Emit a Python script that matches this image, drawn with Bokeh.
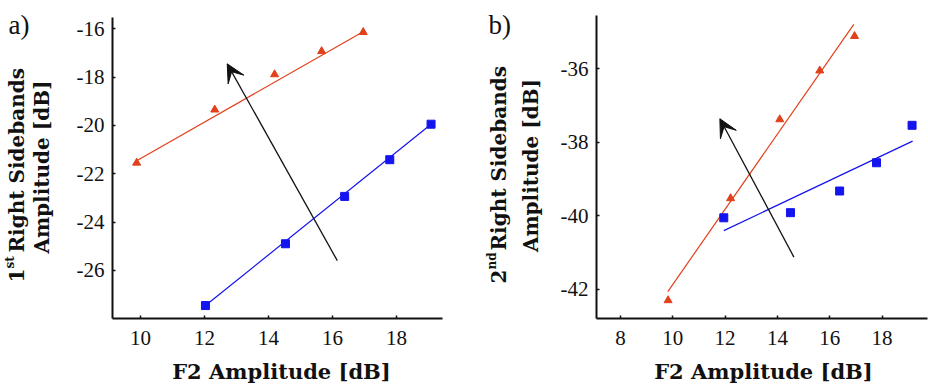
import math
from bokeh.plotting import figure
from bokeh.models import (Arrow, VeeHead, FixedTicker, Range1d, LinearAxis,
                          CustomJSTickFormatter)
from bokeh.core.properties import value
from bokeh.embed import file_html
from bokeh.resources import INLINE

# ---- panel a: 1st right sidebands ----
a_tri_x = [9.88, 12.32, 14.19, 15.66, 16.96]
a_tri_y = [-21.55, -19.35, -17.89, -16.93, -16.14]
a_sq_x = [12.03, 14.53, 16.38, 17.79, 19.08]
a_sq_y = [-27.46, -24.90, -22.94, -21.42, -19.95]
a_tri_fit_x = [9.88, 16.93]
a_tri_fit_y = [-21.46, -16.14]
a_sq_fit_x = [12.03, 19.08]
a_sq_fit_y = [-27.46, -19.95]
a_arrow = (16.15, -25.6, 12.71, -17.45)
a_xticks = [10, 12, 14, 16, 18]
a_yticks = [-26, -24, -22, -20, -18, -16]

# ---- panel b: 2nd right sidebands ----
b_tri_x = [9.82, 12.21, 14.09, 15.62, 16.95]
b_tri_y = [-42.31, -39.53, -37.38, -36.05, -35.11]
b_sq_x = [11.95, 14.50, 16.38, 17.79, 19.15]
b_sq_y = [-40.06, -39.92, -39.33, -38.56, -37.54]
b_tri_fit_x = [9.81, 16.92]
b_tri_fit_y = [-42.07, -34.79]
b_sq_fit_x = [11.95, 19.17]
b_sq_fit_y = [-40.41, -37.97]
b_arrow = (14.63, -41.13, 11.80, -37.36)
b_xticks = [8, 10, 12, 14, 16, 18]
b_yticks = [-42, -40, -38, -36]

RED = "#e2401c"
BLUE = "#1414ee"
INK = "#111111"
TICK_FONT = "Liberation Serif"
TITLE_FONT = "DejaVu Serif"
W, H = 928, 385

# One canvas in page pixels; each panel gets its own data ranges on top of it.
p = figure(width=W, height=H, x_range=Range1d(0, W), y_range=Range1d(H, 0),
           x_axis_type=None, y_axis_type=None, min_border=0,
           output_backend="svg", toolbar_location=None)
p.outline_line_color = None
p.background_fill_color = "white"
p.border_fill_color = "white"


def panel_range(ref_val, ref_px, px_per_unit, total, flip=False):
    """Range that spans the whole canvas given one tick's pixel position."""
    if not flip:
        return Range1d(ref_val - ref_px / px_per_unit,
                       ref_val + (total - ref_px) / px_per_unit)
    return Range1d(ref_val - (total - ref_px) / px_per_unit,
                   ref_val + ref_px / px_per_unit)


def add_panel(tag, xr, yr, frame, xticks, yticks,
              tx, ty, tfx, tfy, sx, sy, sfx, sfy, arrow):
    left, right, top, bottom = frame
    xn, yn = tag + "x", tag + "y"
    p.extra_x_ranges[xn] = xr
    p.extra_y_ranges[yn] = yr

    def xv(px):
        return xr.start + px * (xr.end - xr.start) / W

    def yv(py):
        return yr.end - py * (yr.end - yr.start) / H

    fmt = CustomJSTickFormatter(code="return String(tick)")
    xax = LinearAxis(x_range_name=xn, y_range_name=yn, fixed_location=yv(bottom),
                     bounds=(xv(left), xv(right)), ticker=FixedTicker(ticks=xticks),
                     formatter=fmt)
    yax = LinearAxis(x_range_name=xn, y_range_name=yn, fixed_location=xv(left),
                     bounds=(yv(bottom), yv(top)), ticker=FixedTicker(ticks=yticks),
                     formatter=fmt)
    for ax in (xax, yax):
        ax.axis_line_width = 2
        ax.axis_line_color = INK
        ax.major_tick_in = 3
        ax.major_tick_out = 0
        ax.major_tick_line_color = INK
        ax.major_tick_line_width = 1.5
        ax.minor_tick_line_color = None
        ax.major_label_text_font = TICK_FONT
        ax.major_label_text_font_size = "21px"
        ax.major_label_text_color = INK
    yax.major_label_standoff = 8
    xax.major_label_standoff = 12
    p.add_layout(xax, "below")
    p.add_layout(yax, "left")

    kw = dict(x_range_name=xn, y_range_name=yn)
    p.line(tfx, tfy, line_color=RED, line_width=1.2, **kw)
    p.line(sfx, sfy, line_color=BLUE, line_width=1.2, **kw)
    p.scatter(tx, ty, marker="triangle", size=8, fill_color=RED, line_color=RED, **kw)
    p.scatter(sx, sy, marker="square", size=8, fill_color=BLUE, line_color=BLUE, **kw)
    x0, y0, x1, y1 = arrow
    p.add_layout(Arrow(x_start=x0, y_start=y0, x_end=x1, y_end=y1,
                       line_color=INK, line_width=1.3,
                       end=VeeHead(size=18, fill_color=INK, line_color=INK), **kw))


def text_at(px, py, text, size, bold=True, angle=0.0, align="left",
            baseline="alphabetic", font=TITLE_FONT):
    p.text(x=[px], y=[py], text=[text], angle=angle,
           text_font=value(font), text_font_size=value(f"{size}px"),
           text_font_style="bold" if bold else "normal",
           text_align=align, text_baseline=baseline, text_color=INK)


# panel a: plot box spans x 112..442, y 17..318 on the page
add_panel("a",
          panel_range(10, 140, 32.0, W),
          panel_range(-16, 28.3, 24.15, H, flip=True),
          (112, 442, 17, 318), a_xticks, a_yticks,
          a_tri_x, a_tri_y, a_tri_fit_x, a_tri_fit_y,
          a_sq_x, a_sq_y, a_sq_fit_x, a_sq_fit_y, a_arrow)

# panel b: plot box spans x 596..927, y 15..318 on the page
add_panel("b",
          panel_range(8, 620, 26.15, W),
          panel_range(-36, 68.3, 36.7, H, flip=True),
          (596, 927, 15, 318), b_xticks, b_yticks,
          b_tri_x, b_tri_y, b_tri_fit_x, b_tri_fit_y,
          b_sq_x, b_sq_y, b_sq_fit_x, b_sq_fit_y, b_arrow)

UP = math.pi / 2

# panel tags
text_at(8, 24, "a)", 27, bold=False, font="Liberation Serif")
text_at(488, 24, "b)", 27, bold=False, font="Liberation Serif")

# x titles
text_at(281, 371, "F2 Amplitude [dB]", 21, align="center")
text_at(763, 371, "F2 Amplitude [dB]", 21, align="center")

# y titles (two lines each, ordinal suffix raised)
text_at(16, 282, "1", 20, angle=UP)
text_at(9, 268, "st", 12, angle=UP)
text_at(16, 252, "Right  Sidebands", 20, angle=UP)
text_at(41, 166.5, "Amplitude [dB]", 20, angle=UP, align="center")

text_at(498, 283, "2", 20, angle=UP)
text_at(491, 269, "nd", 12, angle=UP)
text_at(498, 250, "Right  Sidebands", 20, angle=UP)
text_at(530, 165, "Amplitude [dB]", 20, angle=UP, align="center")

open("out.html", "w").write(file_html(p, INLINE))
